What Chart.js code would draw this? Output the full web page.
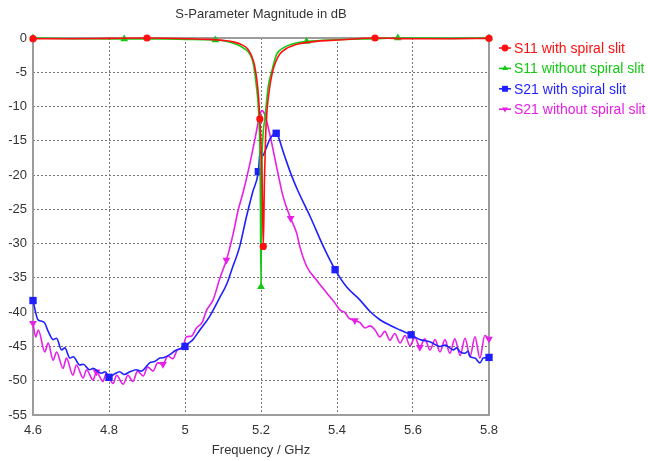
<!DOCTYPE html>
<html>
<head>
<meta charset="utf-8">
<script src="https://cdn.jsdelivr.net/npm/chart.js@4.4.0/dist/chart.umd.min.js"></script>
<style>
html,body{margin:0;padding:0;background:#fff;}
#wrap{width:648px;height:461px;}
</style>
</head>
<body>
<div id="wrap"><canvas id="c" width="648" height="461"></canvas></div>
<script>
// ---- data ----
const chartTitle = 'S-Parameter Magnitude in dB';
const xAxisTitle = 'Frequency / GHz';
const seriesNames = ['S11 with spiral slit', 'S11 without spiral slit', 'S21 with spiral slit', 'S21 without spiral slit'];

const xTickValues = [4.6, 4.8, 5.0, 5.2, 5.4, 5.6, 5.8];
const xTickLabels = ['4.6', '4.8', '5', '5.2', '5.4', '5.6', '5.8'];
const yTickValues = [0, -5, -10, -15, -20, -25, -30, -35, -40, -45, -50, -55];
const yTickLabels = ['0', '-5', '-10', '-15', '-20', '-25', '-30', '-35', '-40', '-45', '-50', '-55'];

// S11 with spiral slit
const s11WithFreq = [4.6, 4.7, 4.8, 4.9, 5.0, 5.06, 5.1, 5.13, 5.15, 5.165, 5.175, 5.183, 5.19, 5.194, 5.197, 5.2, 5.203, 5.206, 5.209, 5.212, 5.216, 5.222, 5.23, 5.24, 5.25, 5.265, 5.28, 5.3, 5.35, 5.4, 5.5, 5.6, 5.7, 5.8];
const s11WithDb   = [-0.1, -0.1, -0.05, 0, -0.1, -0.2, -0.35, -0.6, -1.0, -1.6, -2.6, -4.0, -6.5, -9.0, -11.8, -15.5, -21, -30.4, -21, -14.5, -10.5, -7.5, -5.0, -3.3, -2.3, -1.6, -1.2, -0.85, -0.45, -0.3, 0, -0.1, -0.1, -0.05];
const s11WithMarkers = [4.6, 4.9, 5.197, 5.206, 5.5, 5.8];

// S11 without spiral slit
const s11WithoutFreq = [4.6, 4.7, 4.84, 4.95, 5.0, 5.05, 5.08, 5.11, 5.135, 5.155, 5.171, 5.18, 5.188, 5.193, 5.196, 5.198, 5.2, 5.202, 5.205, 5.21, 5.219, 5.23, 5.241, 5.26, 5.28, 5.32, 5.4, 5.5, 5.56, 5.7, 5.8];
const s11WithoutDb   = [0, -0.1, -0.15, -0.15, -0.2, -0.25, -0.3, -0.5, -0.9, -1.5, -2.4, -3.8, -7.1, -10, -14, -20, -36.3, -20, -14.5, -11.9, -7.1, -4.5, -2.4, -1.4, -0.9, -0.5, -0.25, -0.1, 0, -0.05, 0];
const s11WithoutMarkers = [4.6, 4.84, 5.08, 5.2, 5.32, 5.56, 5.8];

// S21 with spiral slit
const s21WithFreq = [4.6, 4.613, 4.622, 4.631, 4.64, 4.653, 4.662, 4.675, 4.684, 4.697, 4.706, 4.723, 4.732, 4.749, 4.758, 4.78, 4.79, 4.8, 4.815, 4.828, 4.84, 4.855, 4.872, 4.885, 4.907, 4.92, 4.934, 4.945, 4.96, 4.975, 5.0, 5.01, 5.021, 5.039, 5.065, 5.092, 5.109, 5.123, 5.144, 5.162, 5.178, 5.193, 5.198, 5.204, 5.212, 5.223, 5.232, 5.24, 5.247, 5.255, 5.267, 5.28, 5.298, 5.329, 5.364, 5.395, 5.425, 5.46, 5.487, 5.513, 5.539, 5.566, 5.595, 5.618, 5.644, 5.671, 5.685, 5.706, 5.715, 5.724, 5.737, 5.745, 5.75, 5.763, 5.776, 5.785, 5.8];
const s21WithDb   = [-38.3, -41.1, -41.3, -41.6, -42.8, -44.0, -43.8, -45.5, -45.2, -46.7, -46.5, -47.7, -47.6, -48.4, -48.2, -48.9, -48.7, -49.5, -49.0, -48.7, -49.1, -48.7, -48.4, -48.6, -47.4, -47.2, -46.7, -46.6, -46.2, -45.6, -45.0, -44.5, -44.0, -42.6, -40.6, -37.8, -36.0, -33.8, -30.4, -26.0, -22.5, -19.5, -16.5, -17.2, -16.3, -14.8, -14.1, -13.9, -14.6, -16.0, -18.0, -20.0, -22.4, -26.0, -30.4, -33.8, -36.3, -38.2, -39.9, -41.1, -41.9, -42.6, -43.3, -44.0, -44.3, -45.0, -44.8, -45.5, -45.2, -45.8, -46.0, -45.7, -46.5, -46.7, -47.4, -46.7, -46.6];
const s21WithMarkers = [4.6, 4.8, 5.0, 5.193, 5.24, 5.395, 5.595, 5.8];

// S21 without spiral slit
const s21WithoutFreq = [4.6, 4.607, 4.614, 4.631, 4.64, 4.653, 4.662, 4.679, 4.688, 4.705, 4.714, 4.732, 4.741, 4.758, 4.767, 4.784, 4.793, 4.811, 4.82, 4.837, 4.85, 4.863, 4.875, 4.89, 4.902, 4.916, 4.928, 4.942, 4.955, 4.968, 4.98, 4.993, 5.004, 5.017, 5.03, 5.045, 5.057, 5.074, 5.092, 5.109, 5.127, 5.14, 5.153, 5.17, 5.185, 5.197, 5.203, 5.21, 5.225, 5.24, 5.258, 5.278, 5.294, 5.302, 5.32, 5.346, 5.373, 5.395, 5.408, 5.42, 5.432, 5.447, 5.46, 5.474, 5.487, 5.5, 5.513, 5.526, 5.539, 5.552, 5.566, 5.579, 5.592, 5.605, 5.618, 5.631, 5.645, 5.658, 5.671, 5.684, 5.697, 5.71, 5.724, 5.737, 5.75, 5.763, 5.776, 5.789, 5.8];
const s21WithoutDb   = [-41.6, -43.6, -42.6, -45.8, -44.5, -47.0, -45.8, -48.2, -46.7, -49.2, -47.7, -49.6, -48.4, -49.9, -48.7, -50.1, -48.9, -50.4, -49.2, -50.5, -49.2, -50.1, -48.6, -49.3, -48.0, -48.6, -47.4, -47.6, -46.4, -46.8, -45.5, -45.2, -43.6, -43.5, -42.3, -41.5, -39.7, -38.2, -35.0, -32.4, -28.5, -25.1, -22.5, -18.5, -14.5, -11.2, -10.6, -11.2, -14.5, -18.5, -23.1, -26.3, -28.5, -30.4, -33.3, -35.3, -37.2, -38.7, -39.7, -40.0, -40.9, -41.2, -41.5, -42.3, -42.0, -42.6, -43.6, -42.8, -44.1, -43.1, -44.5, -43.4, -44.9, -43.7, -45.1, -43.9, -45.5, -44.0, -45.8, -44.0, -46.0, -43.9, -46.3, -43.8, -46.5, -43.6, -46.7, -43.4, -43.9];
const s21WithoutMarkers = [4.6, 4.767, 4.942, 5.109, 5.278, 5.447, 5.618, 5.8];

// ---- build ----
const colors = ['#ff1010', '#14c814', '#1f1fff', '#e620e6'];
const FONT = "'Liberation Sans', Arial, sans-serif";

function pts(fx, fy) { return fx.map((x, i) => ({x: x, y: fy[i]})); }
function markerRadius(marks, r) {
  return ctx => {
    const p = ctx.raw;
    return p && marks.some(m => Math.abs(m - p.x) < 1e-9) ? r : 0;
  };
}
function ds(label, data, color, marks, style, r, rot) {
  return {
    label: label, data: data,
    borderColor: color, backgroundColor: color,
    pointBackgroundColor: color, pointBorderColor: color,
    borderWidth: 1.6, pointBorderWidth: 0,
    pointStyle: style, rotation: rot || 0,
    pointRadius: markerRadius(marks, r), pointHoverRadius: 0,
    cubicInterpolationMode: 'monotone',
    clip: false, fill: false
  };
}

const datasets = [
  ds(seriesNames[0], pts(s11WithFreq, s11WithDb), colors[0], s11WithMarkers, 'circle', 3.6),
  ds(seriesNames[1], pts(s11WithoutFreq, s11WithoutDb), colors[1], s11WithoutMarkers, 'triangle', 4.5),
  ds(seriesNames[2], pts(s21WithFreq, s21WithDb), colors[2], s21WithMarkers, 'rect', 5.2),
  ds(seriesNames[3], pts(s21WithoutFreq, s21WithoutDb), colors[3], s21WithoutMarkers, 'triangle', 4.5, 180)
];

const decor = {
  id: 'decor',
  beforeDatasetsDraw(chart) {
    const {ctx, chartArea: a} = chart;
    ctx.save();
    ctx.strokeStyle = '#9c9c9c';
    ctx.lineWidth = 2;
    ctx.strokeRect(a.left, a.top, a.right - a.left, a.bottom - a.top);
    ctx.restore();
  },
  afterDraw(chart) {
    const {ctx, chartArea: a} = chart;
    ctx.save();
    // title
    ctx.fillStyle = '#333';
    ctx.font = '13px ' + FONT;
    ctx.textAlign = 'center';
    ctx.textBaseline = 'middle';
    ctx.fillText(chartTitle, (a.left + a.right) / 2, 14);
    // legend
    ctx.textAlign = 'left';
    ctx.font = '14px ' + FONT;
    chart.data.datasets.forEach((d, i) => {
      const y = 48 + i * 20.4;
      const x0 = a.right + 10;
      ctx.strokeStyle = d.borderColor;
      ctx.lineWidth = 1.6;
      ctx.beginPath(); ctx.moveTo(x0, y); ctx.lineTo(x0 + 12, y); ctx.stroke();
      ctx.fillStyle = d.borderColor;
      Chart.helpers.drawPoint(ctx, {pointStyle: d.pointStyle, rotation: d.rotation, radius: d.pointStyle === 'rect' ? 4.2 : 3.4, borderWidth: 0}, x0 + 6, y);
      ctx.fillStyle = d.borderColor;
      ctx.fillText(d.label, x0 + 15, y + 1);
    });
    ctx.restore();
  }
};

new Chart(document.getElementById('c'), {
  type: 'line',
  data: {datasets: datasets},
  plugins: [decor],
  options: {
    responsive: false,
    animation: false,
    events: [],
    layout: {padding: {top: 38, right: 159, left: 0, bottom: 0}},
    plugins: {legend: {display: false}, title: {display: false}, tooltip: {enabled: false}},
    scales: {
      x: {
        type: 'linear', min: 4.6, max: 5.8,
        afterBuildTicks: s => { s.ticks = xTickValues.map(v => ({value: v})); },
        afterFit: s => { s.height = 46; },
        ticks: {callback: (v, i) => xTickLabels[i], color: '#333', font: {size: 13, family: FONT}, padding: 8, maxRotation: 0, autoSkip: false},
        grid: {color: '#777', lineWidth: 1, drawTicks: false},
        border: {display: false, dash: [2, 2]},
        title: {display: true, text: xAxisTitle, color: '#333', font: {size: 13, family: FONT}, padding: {top: 2, bottom: 3}}
      },
      y: {
        type: 'linear', min: -55, max: 0,
        afterBuildTicks: s => { s.ticks = yTickValues.map(v => ({value: v})); },
        afterFit: s => { s.width = 33; },
        ticks: {callback: (v) => yTickLabels[yTickValues.indexOf(v)], color: '#333', font: {size: 13, family: FONT}, padding: 6, autoSkip: false},
        grid: {color: '#777', lineWidth: 1, drawTicks: false},
        border: {display: false, dash: [2, 2]}
      }
    }
  }
});
</script>
</body>
</html>
